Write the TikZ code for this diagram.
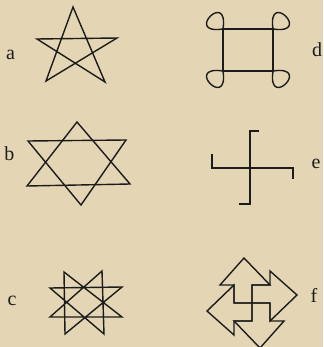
\documentclass[tikz,border=0pt]{standalone}
\usepackage{fontspec}
\setmainfont{Liberation Serif}
\usetikzlibrary{calc}
\definecolor{Paper}{HTML}{E4D5B4}
\definecolor{Ink}{HTML}{1C1C1C}

\begin{document}
\begin{tikzpicture}[
        x=1pt, y=-1pt,
        sign/.style={draw=Ink, line width=1.4pt, line join=miter},
        tag/.style={text=Ink, font=\fontsize{20pt}{22pt}\selectfont, inner sep=0pt}
    ]
    \useasboundingbox (0,0) rectangle (323,347);
    \fill[Paper] (0,0) rectangle (323,347);

    % a: pentagram
    \draw[sign] (73,7) -- (46,81) -- (117,38) -- (37,39) -- (105,82) -- cycle;
    \node[tag] (a) at (10.5,55) {a};

    % b: hexagram
    \draw[sign] (77,122) -- (27,186) -- (130,184) -- cycle;
    \draw[sign] (28,141) -- (126,140) -- (81,205) -- cycle;
    \node[tag] (b) at (9.5,154) {b};

    % c: eight-pointed star
    \draw[sign] (64,272) -- (122,317) -- (50,317) -- (102,271) -- (104,334)
        -- (50,288) -- (122,287) -- (65,334) -- cycle;
    \node[tag] (c) at (12,301) {c};

    % d: square with loops
    \draw[sign] (223,29) rectangle (273,71);
    \draw[sign] (223,29) .. controls +(6,-40) and +(-40,6) .. (223,29);
    \draw[sign] (273,29) .. controls +(-6,-40) and +(40,6) .. (273,29);
    \draw[sign] (223,71) .. controls +(6,40) and +(-40,-6) .. (223,71);
    \draw[sign] (273,71) .. controls +(-6,40) and +(40,-6) .. (273,71);
    \node[tag] (d) at (317,50) {d};

    % e: hooked cross
    \draw[sign] (212,154) -- (212,168) -- (293,168) -- (293,179);
    \draw[sign] (259,131) -- (250,131) -- (250,204) -- (239,204);
    \node[tag] (e) at (316,164) {e};

    % f: four arrows
    \foreach \ang in {0,90,180,270}
        \draw[sign, shift={(252,303)}, rotate=-\ang]
            (-8,-45) -- (18,-18) -- (0,-18) -- (0,0) -- (-18,0)
            -- (-18,-18) -- (-32,-18) -- cycle;
    \node[tag] (f) at (314,295) {f};
\end{tikzpicture}
\end{document}
